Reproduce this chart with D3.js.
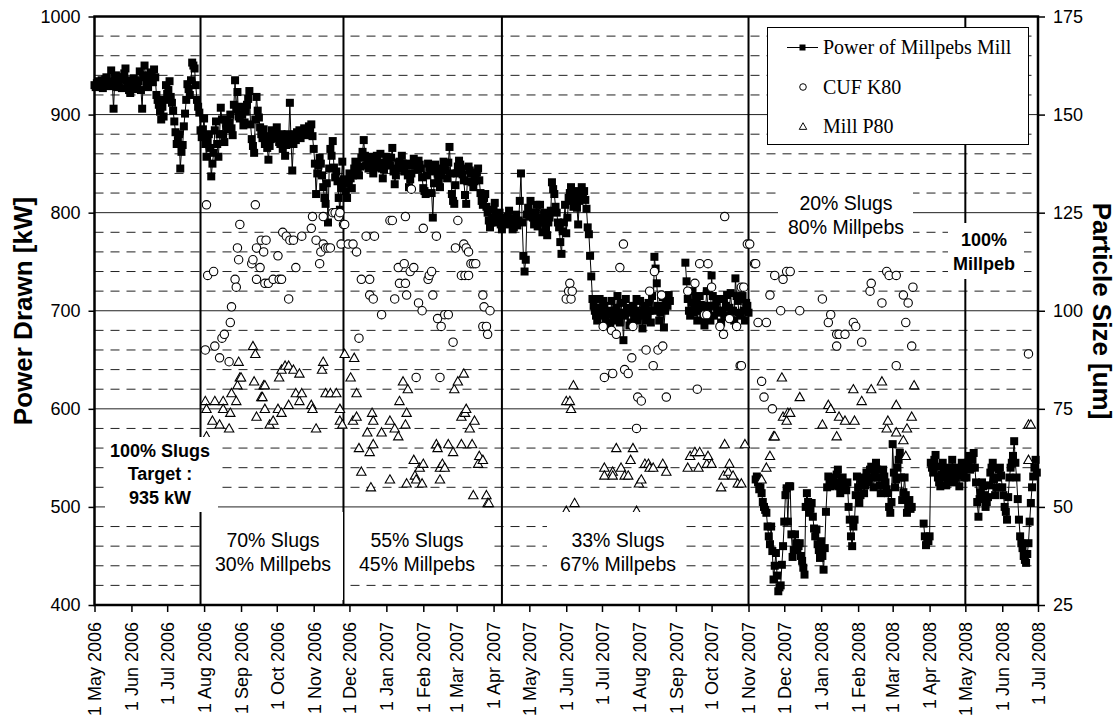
<!DOCTYPE html>
<html>
<head>
<meta charset="utf-8">
<script src="https://cdn.jsdelivr.net/npm/d3@7"></script>
<style>
  html, body { margin: 0; padding: 0; background: #fff; }
  svg { display: block; }
  text { font-family: "Liberation Sans", Arial, sans-serif; fill: #000; }
  .legend text { font-family: "Liberation Serif", "Times New Roman", serif; }
</style>
</head>
<body>
<svg id="chart" width="1117" height="725"></svg>
<script>
// time span of the chart
const startDay = Date.UTC(2006, 4, 1);
const endDay = Date.UTC(2008, 6, 1);

// mill power, one reading per day from 1 May 2006 (null = no data)
const powerKW = [
  // May - Jul 2006
  930, 928, 932, 934, 929, 931, 935, 927, 931, 936,
  938, 933, 930, 929, 945, 930, 906, 935, 940, 928,
  933, 938, 936, 927, 938, 942, 947, 935, 930, 925,
  922, 931, 928, 937, 935, 926, 930, 934, 944, 925,
  906, 940, 950, 938, 932, 928, 938, 943, 940, 933,
  946, 938, 920, 915, 910, 903, 895, 908, 898, 915,
  930, 921, 925, 934, 918, 912, 904, 893, 882, 870,
  874, 880, 845, 862, 869, 888, 901, 915, 931, 926,
  920, 935, 953, 950, 947, 930, 915, 908, 902, 884,
  // Aug - Nov 2006
  877, 885, 896, 870, 857, 874, 880, 866, 837, 850,
  861, 884, 893, 870, 857, 880, 907, 895, 880, 872,
  895, 888, 885, 892, 900, 886, 879, 910, 935, 905,
  923, 898, 896, 908, 900, 889, 892, 903, 910, 916,
  924, 890, 875, 868, 861, 895, 918, 904, 897, 887,
  880, 876, 885, 870, 878, 866, 854, 868, 875, 884,
  880, 876, 882, 887, 878, 872, 870, 880, 865, 874,
  858, 869, 880, 876, 912, 872, 843, 870, 880, 874,
  882, 878, 884, 876, 880, 883, 886, 879, 885, 881,
  888, 884, 890, 878, 865, 850, 819, 840, 848, 856,
  850, 838, 826, 815, 809, 830, 790, 845, 865, 858,
  873, 846, 836, 842, 832, 815, 803, 825, 852, 834,
  // Nov 2006 - Apr 2007
  830, 822, 815, 831, 840, 835, 825, 838, 845, 852,
  850, 843, 838, 847, 856, 862, 874, 858, 848, 853,
  845, 850, 857, 846, 840, 848, 852, 858, 846, 851,
  860, 845, 835, 844, 850, 857, 855, 849, 848, 856,
  866, 842, 829, 838, 845, 851, 852, 847, 858, 850,
  842, 848, 850, 838, 826, 834, 840, 848, 855, 850,
  848, 844, 853, 849, 845, 836, 825, 822, 819, 838,
  850, 846, 842, 820, 795, 830, 849, 844, 840, 833,
  826, 838, 845, 852, 850, 843, 835, 851, 867, 840,
  819, 812, 809, 828, 840, 847, 853, 849, 845, 839,
  833, 818, 809, 832, 847, 843, 840, 831, 826, 832,
  835, 841, 845, 833, 820, 812, 808, 815, 819, 806,
  800, 792, 785, 790, 795, 803, 810, 798, 790, 796,
  800, 788, 783, 791,
  // Apr - Oct 2007
  795, 790, 788, 796, 802, 794, 790, 783, 785, 792,
  798, 787, 792, 812, 840, 790, 756, 740, 752, 798,
  805, 796, 812, 800, 795, 788, 800, 808, 786, 795,
  808, 790, 780, 795, 800, 784, 777, 790, 795, 802,
  831, 824, 819, 806, 800, 790, 785, 770, 758, 781,
  790, 808, 779, 795, 815, 820, 826, 812, 806, 818,
  822, 805, 788, 812, 820, 826, 818, 822, 813, 804,
  785, 778, 756, 735, 712, 705, 700, 695, 690, 703,
  712, 700, 695, 710, 705, 692, 685, 697, 700, 688,
  710, 696, 690, 700, 703, 715, 695, 688, 708, 698,
  670, 695, 712, 703, 698, 685, 688, 700, 705, 693,
  700, 712, 690, 698, 710, 695, 682, 700, 705, 690,
  695, 708, 700, 688, 715, 700, 755, 743, 728, 705,
  690, 698, 705, 714, 683, 700, 712, 705, 716, 710,
  null, null, null, null, null, null, null, null, null, null,
  null, null, 749, 730, 712, 700, 695, 708, 720, 698,
  705, 712, 690, 700, 715, 706, 700, 692, 685, 705,
  720, 700, 705, 690, 736, 715, 695, 705, 710, 698,
  700, 712, 688, 700, 712, 694, 705, 716, 695, 703,
  718, 700, 700, 690, 733, 715, 710, 698, 695, 712,
  715, 700, 690, 708, 705, 698,
  // Nov 2007 - Apr 2008
  null, null, null, null, null, 528, 531, 525, 518, 520,
  514, 505, 500, 497, 494, 480, 470, 462, 480, 455,
  426, 440, 453, 430, 414, 418, 420, 441, 460, 485,
  512, 519, 485, 521, 521, 472, 449, 456, 472, 463,
  456, 460, 463, 450, 445, 438, 431, 500, 514, 505,
  494, 498, 504, 490, 478, 470, 477, 462, 456, 448,
  465, 450, 436, 458, 495, 520, 531, 526, 521, 530,
  528, 522, 525, 533, 538, 521, 514, 526, 530, 524,
  520, 517, 525, 500, 487, 470, 460, 480, 487, 512,
  531, 520, 504, 512, 525, 530, 514, 522, 535, 530,
  525, 538, 541, 530, 520, 533, 545, 538, 530, 522,
  514, 530, 538, 531, 525, 518, 514, 500, 494, 505,
  564, 535, 520, 528, 540, 548, 555, 530, 507, 515,
  530, 512, 494, 500, 507, 498, 500, null, null, null,
  null, null, null, null, null, null, 483, 470, 461, 466,
  465, 470, 545, 540, 535, 548, 553, 541, 530, 525,
  521, 533, 545, 538, 530, 522, 525, 535, 540, 530,
  548, 535, 525, 530, 540, 532, 521, 535, 545, 538,
  530, 541,
  // May - Jun 2008
  530, 545, 552, 538, 540, 548, 555, 540, 525, 505,
  490, 508, 515, 525, 521, 512, 500, 505, 510, 522,
  535, 540, 545, 528, 512, 520, 530, 538, 540, 532,
  520, 512, 500, 495, 487, 510, 530, 540, 545, 552,
  567, 545, 530, 508, 487, 470, 463, 458, 450, 446,
  443, 452, 463, 485, 504, 520, 531, 540, 548, 535
];

// CUF K80 [day since 1 May 2006, um]
const cufK80 = [
  [93,90],[94,127],[95,109],[100,110],[101,91],[105,88],[107,93],[109,94],[113,87],[114,97],
  [115,101],[118,108],[119,106],[120,116],[121,113],[122,122],[132,112],[133,113],[135,127],[136,116],
  [136,108],[139,111],[140,118],[142,115],[143,107],[144,118],[146,107],[150,108],[154,114],[155,108],
  [157,108],[158,120],[161,119],[163,103],[164,118],[167,118],[169,111],[174,119],[182,121],[183,124],
  [186,118],[189,112],[190,115],[192,124],[192,117],[194,116],[196,116],[198,116],[200,125],[202,125],
  [205,124],[206,125],[207,117],[209,122],[210,122],[213,117],[217,117],[220,115],[222,93],[224,108],
  [228,119],[231,108],[231,104],[234,103],[235,119],[241,99],[248,123],[250,123],[252,103],[255,111],
  [256,107],[260,112],[261,124],[261,107],[262,104],[265,110],[266,131],[268,111],[270,83],[272,102],
  [275,100],[276,121],[280,108],[281,109],[283,110],[284,104],[287,119],[288,98],[290,83],[291,96],
  [294,99],[297,99],[301,92],[303,116],[305,123],[308,109],[310,117],[311,109],[312,116],[314,115],
  [314,109],[316,112],[318,112],[320,112],[326,104],[326,96],[327,101],[329,96],[330,94],[332,100],
  [396,103],[398,105],[399,107],[400,103],[401,105],[427,96],[428,83],[434,95],[435,84],[438,94],
  [441,111],[444,117],[445,85],[448,84],[451,88],[452,96],[455,70],[456,78],[459,77],[463,90],
  [466,105],[469,86],[470,110],[473,90],[476,104],[477,91],[480,78],[498,105],[504,107],[506,80],
  [508,112],[512,99],[514,99],[515,112],[518,106],[525,96],[528,94],[529,124],[533,98],[539,96],
  [542,86],[543,86],[543,106],[545,106],[548,117],
  [550,117],[554,112],[555,112],[557,97],[560,82],[562,78],[564,97],[567,104],[569,75],[571,109],
  [576,100],[578,108],[581,110],[584,110],[592,100],[611,103],[616,97],[618,99],[623,94],[623,91],
  [625,94],[630,94],[637,97],[639,96],[644,92],[651,105],[652,107],[661,102],[665,110],[667,109],
  [673,109],[673,86],[679,104],[681,97],[683,102],[686,91],[687,106],[784,89]
];

// Mill P80 [day since 1 May 2006, um]
const millP80 = [
  [93,77],[94,75],[94,68],[99,72],[101,77],[105,71],[108,77],[108,75],[113,70],[114,74],
  [115,79],[119,77],[120,81],[121,87],[122,83],[123,83],[133,91],[134,82],[135,89],[136,73],
  [140,78],[141,78],[142,81],[143,75],[143,81],[147,71],[150,72],[154,75],[155,83],[157,74],
  [157,85],[160,86],[163,86],[163,76],[167,85],[169,79],[172,84],[172,77],[174,79],[182,76],
  [183,75],[186,70],[191,85],[192,87],[194,79],[198,79],[203,79],[206,75],[206,72],[208,71],
  [210,89],[215,83],[217,72],[218,88],[220,79],[220,73],[222,65],[224,59],[229,69],[231,64],
  [232,55],[233,74],[234,66],[234,72],[241,69],[248,57],[248,72],[252,70],[255,68],[256,77],
  [259,82],[261,71],[262,56],[262,74],[263,80],[268,62],[269,58],[270,57],[273,60],[275,56],
  [276,61],[287,66],[288,65],[290,60],[290,57],[292,61],[294,60],[297,66],[301,64],[302,80],
  [305,82],[308,66],[308,73],[310,84],[311,74],[312,75],[315,70],[317,66],[318,53],[319,72],
  [322,61],[323,63],[326,62],[329,53],[330,51],[331,51],
  [396,49],[396,77],[399,77],[400,75],[402,81],[403,51],[428,60],[428,58],[435,59],[435,58],
  [438,65],[442,60],[445,58],[448,58],[450,62],[452,65],[455,49],[457,56],[459,57],[462,61],
  [465,61],[466,60],[469,60],[477,61],[480,59],[498,60],[500,63],[504,64],[507,60],[508,64],
  [514,61],[515,63],[518,61],[526,55],[528,58],[529,66],[532,59],[533,61],[536,58],[540,56],
  [543,56],[546,66],
  [560,57],[564,60],[567,63],[570,68],[571,68],[577,83],[578,73],[581,72],[582,74],[584,74],
  [592,78],[611,71],[616,76],[618,75],[623,68],[625,73],[630,72],[637,80],[638,72],[644,77],
  [652,80],[661,82],[665,70],[666,72],[673,69],[673,76],[679,67],[681,63],[682,70],[686,73],
  [688,81],[784,71],[786,71],[784,62]
];

// dates where the feed mix changed
const phaseDates = ["2006-07-29", "2006-11-26", "2007-04-08", "2007-11-01", "2008-05-01"];

const leftTicks = [400, 500, 600, 700, 800, 900, 1000];
const rightTicks = [25, 50, 75, 100, 125, 150, 175];
const legendNames = ["Power of Millpebs Mill", "CUF K80", "Mill P80"];

// text boxes on the plot: lines, centre, white box [x0, y0, x1, y1]
const notes = [
  { lines: ["100% Slugs", "Target :", "935 kW"], bold: true, cx: 160, cy: 474, box: [105, 437, 218, 512] },
  { lines: ["70% Slugs", "30% Millpebs"], bold: false, cx: 273, cy: 552, box: [202, 512, 343, 600] },
  { lines: ["55% Slugs", "45% Millpebs"], bold: false, cx: 417, cy: 552, box: [346, 512, 492, 580] },
  { lines: ["33% Slugs", "67% Millpebs"], bold: false, cx: 618, cy: 552, box: [547, 512, 685, 580] },
  { lines: ["20% Slugs", "80% Millpebs"], bold: false, cx: 846, cy: 215, box: [778, 186, 913, 240] },
  { lines: ["100%", "Millpeb"], bold: true, cx: 984, cy: 251.5, box: [948, 223, 1024, 279] }
];

const X0 = 94.5, X1 = 1038, Y0 = 16.5, Y1 = 605;
const dayToDate = (d) => new Date(startDay + d * 864e5);

const svg = d3.select('#chart');

const x = d3.scaleUtc().domain([new Date(startDay), new Date(endDay)]).range([X0, X1]);
const yL = d3.scaleLinear().domain([400, 1000]).range([Y1, Y0]);
const yR = d3.scaleLinear().domain([25, 175]).range([Y1, Y0]);

// gridlines
const grid = svg.append('g');
grid.selectAll('line.minor')
  .data(d3.range(420, 1000, 20).filter((v) => v % 100 !== 0))
  .join('line')
  .attr('x1', X0).attr('x2', X1)
  .attr('y1', (d) => yL(d)).attr('y2', (d) => yL(d))
  .attr('stroke', '#222').attr('stroke-width', 1)
  .attr('stroke-dasharray', '9,7');
grid.selectAll('line.major')
  .data([500, 600, 700, 800, 900])
  .join('line')
  .attr('x1', X0).attr('x2', X1)
  .attr('y1', (d) => yL(d)).attr('y2', (d) => yL(d))
  .attr('stroke', '#222').attr('stroke-width', 1);

// phase boundaries
svg.append('g').selectAll('line')
  .data(phaseDates)
  .join('line')
  .attr('x1', (d) => x(new Date(d + 'T00:00:00Z')))
  .attr('x2', (d) => x(new Date(d + 'T00:00:00Z')))
  .attr('y1', Y0).attr('y2', Y1)
  .attr('stroke', '#000').attr('stroke-width', 2);

// power series
const power = powerKW.map((v, i) => ({ date: dayToDate(i), v }));
const line = d3.line()
  .defined((d) => d.v != null)
  .x((d) => x(d.date))
  .y((d) => yL(d.v));
svg.append('path')
  .attr('d', line(power))
  .attr('fill', 'none')
  .attr('stroke', '#000')
  .attr('stroke-width', 1);
svg.append('g').selectAll('rect')
  .data(power.filter((d) => d.v != null))
  .join('rect')
  .attr('x', (d) => x(d.date) - 4)
  .attr('y', (d) => yL(d.v) - 4)
  .attr('width', 8).attr('height', 8)
  .attr('fill', '#000');

// particle sizes
svg.append('g').selectAll('circle')
  .data(cufK80)
  .join('circle')
  .attr('cx', (d) => x(dayToDate(d[0])))
  .attr('cy', (d) => yR(d[1]))
  .attr('r', 4.2)
  .attr('fill', '#fff').attr('stroke', '#000').attr('stroke-width', 1.1);

const tri = 'M0,-4.7L4.7,3.6L-4.7,3.6Z';
svg.append('g').selectAll('path')
  .data(millP80)
  .join('path')
  .attr('d', tri)
  .attr('transform', (d) => `translate(${x(dayToDate(d[0]))},${yR(d[1])})`)
  .attr('fill', '#fff').attr('stroke', '#000').attr('stroke-width', 1.1);

// annotation boxes
notes.forEach((n) => {
  const g = svg.append('g');
  g.append('rect')
    .attr('x', n.box[0]).attr('y', n.box[1])
    .attr('width', n.box[2] - n.box[0]).attr('height', n.box[3] - n.box[1])
    .attr('fill', '#fff');
  const size = n.bold ? 18 : 19.5;
  const gap = n.bold ? 23.5 : 24;
  n.lines.forEach((t, i) => {
    const cy = n.cy + (i - (n.lines.length - 1) / 2) * gap;
    g.append('text')
      .attr('x', n.cx)
      .attr('y', cy + size * 0.36)
      .attr('text-anchor', 'middle')
      .attr('font-size', size)
      .attr('font-weight', n.bold ? 'bold' : 'normal')
      .text(t);
  });
});

// legend
const legend = svg.append('g').attr('class', 'legend');
legend.append('rect')
  .attr('x', 767.5).attr('y', 27.5).attr('width', 261).attr('height', 117)
  .attr('fill', '#fff').attr('stroke', '#000').attr('stroke-width', 1);
legendNames.forEach((name, i) => {
  const cy = 47.5 + i * 39.5;
  if (i === 0) {
    legend.append('line').attr('x1', 787).attr('x2', 818).attr('y1', cy).attr('y2', cy)
      .attr('stroke', '#000').attr('stroke-width', 1);
    legend.append('rect').attr('x', 799.5).attr('y', cy - 3).attr('width', 6).attr('height', 6)
      .attr('fill', '#000');
  } else if (i === 1) {
    legend.append('circle').attr('cx', 803).attr('cy', cy).attr('r', 3.3)
      .attr('fill', '#fff').attr('stroke', '#000');
  } else {
    legend.append('path').attr('d', tri)
      .attr('transform', `translate(803,${cy}) scale(0.8)`)
      .attr('fill', '#fff').attr('stroke', '#000').attr('stroke-width', 1.2);
  }
  legend.append('text')
    .attr('x', 823).attr('y', cy + 6.5)
    .attr('font-size', 20)
    .text(name);
});

// axes
const axisStyle = (g) => {
  g.select('.domain').remove();
  g.selectAll('.tick line').attr('stroke', '#000').attr('stroke-width', 1.5);
  g.selectAll('.tick text').attr('font-size', 18).attr('fill', '#000')
    .attr('font-family', '"Liberation Sans", Arial, sans-serif');
};

svg.append('g')
  .attr('transform', `translate(${X0},0)`)
  .call(d3.axisLeft(yL).tickValues(leftTicks).tickFormat(d3.format('d')).tickSize(6).tickPadding(8))
  .call(axisStyle);

svg.append('g')
  .attr('transform', `translate(${X1},0)`)
  .call(d3.axisRight(yR).tickValues(rightTicks).tickFormat(d3.format('d')).tickSize(7).tickPadding(8))
  .call(axisStyle);

svg.append('g')
  .attr('transform', `translate(0,${Y1})`)
  .call(d3.axisBottom(x).ticks(d3.utcMonth.every(1)).tickFormat(d3.utcFormat('%-d %b %Y')).tickSize(7))
  .call(axisStyle)
  .call((g) => g.selectAll('.tick text')
    .attr('transform', 'rotate(-90)')
    .attr('x', -17).attr('y', 0).attr('dy', '0.35em')
    .attr('text-anchor', 'end'));

// plot frame
svg.append('rect')
  .attr('x', X0).attr('y', Y0).attr('width', X1 - X0).attr('height', Y1 - Y0)
  .attr('fill', 'none').attr('stroke', '#000').attr('stroke-width', 2.5);

// axis titles
svg.append('text')
  .attr('transform', `translate(32,311) rotate(-90)`)
  .attr('text-anchor', 'middle')
  .attr('font-size', 26).attr('font-weight', 'bold')
  .text('Power Drawn [kW]');
svg.append('text')
  .attr('transform', `translate(1093,311) rotate(90)`)
  .attr('text-anchor', 'middle')
  .attr('font-size', 26).attr('font-weight', 'bold')
  .text('Particle Size [um]');
</script>
</body>
</html>
